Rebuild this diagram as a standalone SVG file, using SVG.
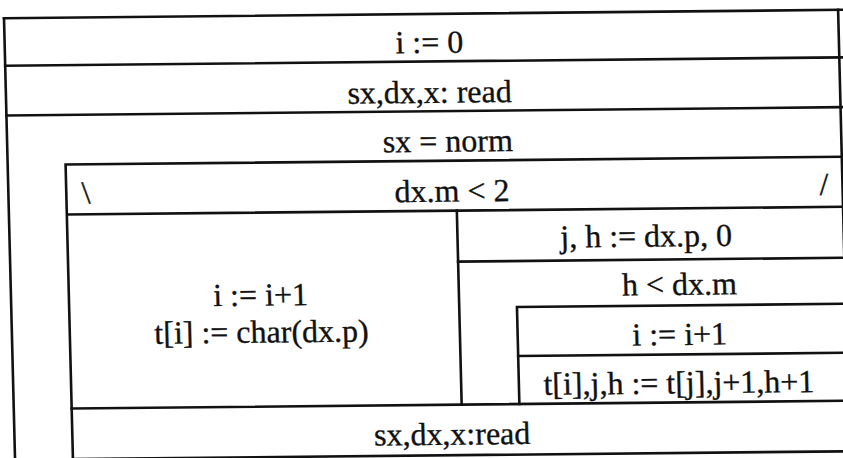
<svg xmlns="http://www.w3.org/2000/svg" width="843" height="458" viewBox="0 0 843 458">
<style>
.ln{fill:none;stroke:#111;stroke-width:2.6;stroke-linecap:square}
.t{font-family:"Liberation Serif","Times New Roman",serif;font-size:32px;fill:#111;stroke:#111;stroke-width:0.35;text-anchor:middle}
</style>
<rect width="843" height="458" fill="#fff"/>
<g transform="matrix(1,-0.01,0.025,1,-5.75,4.2)">
<g id="n_init"><path class="ln" d="M9.4,14.1H850M9.4,61.6H850"/><text class="t" x="434" y="53">i := 0</text></g>
<g id="n_read1"><path class="ln" d="M9.4,111.4H850"/><text class="t" x="433" y="103">sx,dx,x: read</text></g>
<g id="n_loop"><path class="ln" d="M9.4,14.1V480M843.5,14.1V480"/><text class="t" x="450" y="152">sx = norm</text></g>
<g id="n_if"><path class="ln" d="M67.3,161H850M67.3,211H850M67.3,161V480"/><text class="t" x="453" y="202">dx.m &lt; 2</text><text class="t" x="87" y="200">\</text><text class="t" x="825" y="199">/</text></g>
<g id="n_then"><path class="ln" d="M457.3,211V405"/><text class="t" x="259" y="304">i := i+1</text><text class="t" x="259" y="341">t[i] := char(dx.p)</text></g>
<g id="n_jh"><path class="ln" d="M457.3,262H850"/><text class="t" x="646" y="249">j, h := dx.p, 0</text></g>
<g id="n_while"><path class="ln" d="M515,308H850M515,308V405"/><text class="t" x="678" y="297.5">h &lt; dx.m</text></g>
<g id="n_inc"><path class="ln" d="M515,357H850"/><text class="t" x="677" y="347.5">i := i+1</text></g>
<g id="n_assign"><text class="t" x="675" y="396">t[i],j,h := t[j],j+1,h+1</text></g>
<g id="n_read2"><path class="ln" d="M67.3,405H850M67.3,455.5H850"/><text class="t" x="447" y="445">sx,dx,x:read</text></g>
</g>
<g id="connectors"/>
</svg>
